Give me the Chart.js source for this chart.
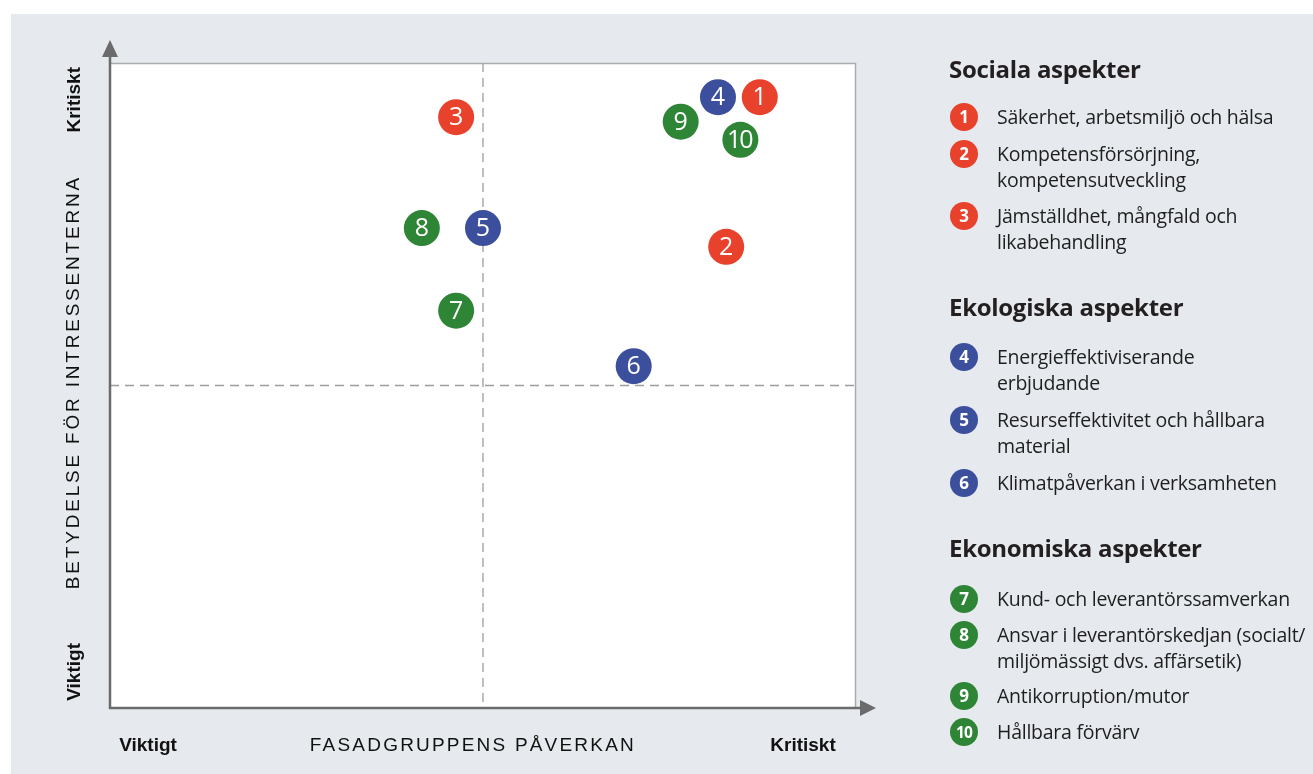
<!DOCTYPE html>
<html><head><meta charset="utf-8">
<script src="https://cdn.jsdelivr.net/npm/chart.js@4"></script>
<style>
html,body{margin:0;padding:0;background:#fff;width:1313px;height:774px;overflow:hidden;font-family:"Open Sans",sans-serif;}
#panel{position:absolute;left:11px;top:14px;width:1302px;height:760px;background:#e6eaee;}
#wrap{position:absolute;left:0;top:0;width:1313px;height:774px;}
.hd{position:absolute;left:949px;font-weight:700;font-size:24px;line-height:30px;color:#231f20;letter-spacing:-0.3px;white-space:nowrap;}
.it{position:absolute;left:997px;font-size:19.5px;line-height:26px;color:#1e1e1e;letter-spacing:-0.25px;white-space:nowrap;}
.dot{position:absolute;left:950px;width:28px;height:28px;border-radius:50%;color:#fff;font-weight:700;font-size:17px;line-height:28px;text-align:center;}
</style></head>
<body>
<div id="panel"></div>
<div id="wrap"><canvas id="c" width="1313" height="774"></canvas></div>
<div id="legend"></div>
<script>
// ---- data ----
const ids = [1,2,3,4,5,6,7,8,9,10];
const names = [
  "Säkerhet, arbetsmiljö och hälsa",
  "Kompetensförsörjning,|kompetensutveckling",
  "Jämställdhet, mångfald och|likabehandling",
  "Energieffektiviserande|erbjudande",
  "Resurseffektivitet och hållbara|material",
  "Klimatpåverkan i verksamheten",
  "Kund- och leverantörssamverkan",
  "Ansvar i leverantörskedjan (socialt/|miljömässigt dvs. affärsetik)",
  "Antikorruption/mutor",
  "Hållbara förvärv"
];
const groupNames = ["Sociala aspekter","Ekologiska aspekter","Ekonomiska aspekter"];
const groupColors = ["#e8412c","#3b4f9d","#2f8536"];
const groupOf = [0,0,0,1,1,1,2,2,2,2];
const xVals = [8.71,8.26,4.64,8.15,5.00,7.02,4.64,4.18,7.65,8.45]; // Fasadgruppens påverkan
const yVals = [9.47,7.15,9.16,9.47,7.44,5.30,6.16,7.44,9.09,8.81]; // Betydelse för intressenterna
const axisXLabel = "FASADGRUPPENS PÅVERKAN";
const axisYLabel = "BETYDELSE FÖR INTRESSENTERNA";
const lowLabel = "Viktigt", highLabel = "Kritiskt";

// ---- legend (HTML) ----
const legendLayout = {heads:[69,307,548], rows:[117,154,216,357,420,483,599,635,696,732]};
const lg = document.getElementById('legend');
groupNames.forEach((g,i)=>{
  const d=document.createElement('div');d.className='hd';d.textContent=g;
  d.style.top=(legendLayout.heads[i]-15)+'px';lg.appendChild(d);
});
ids.forEach((id,i)=>{
  const c=groupColors[groupOf[i]];
  const dot=document.createElement('div');dot.className='dot';dot.textContent=id;
  dot.style.background=c;dot.style.top=(legendLayout.rows[i]-14)+'px';
  if(id===10){dot.style.fontSize='15.5px';dot.style.letterSpacing='-0.8px';}
  lg.appendChild(dot);
  const t=document.createElement('div');t.className='it';
  t.innerHTML=names[i].split('|').join('<br>');
  t.style.top=(legendLayout.rows[i]-13)+'px';lg.appendChild(t);
});

// ---- chart ----
const datasets = groupNames.map((g,gi)=>{
  const pts=[];
  ids.forEach((id,i)=>{ if(groupOf[i]===gi) pts.push({x:xVals[i],y:yVals[i],id:id}); });
  return {label:g,data:pts,backgroundColor:groupColors[gi],borderWidth:0,pointRadius:18,pointHoverRadius:18};
});

const decor = {
  id:'decor',
  beforeDatasetsDraw(chart){
    const {ctx,chartArea:a,scales:{x,y}} = chart;
    ctx.save();
    ctx.fillStyle='#fff';
    ctx.fillRect(a.left,a.top,a.right-a.left,a.bottom-a.top);
    // top/right border
    ctx.strokeStyle='#a9abad';ctx.lineWidth=1.5;
    ctx.beginPath();ctx.moveTo(a.left,a.top+0.5);ctx.lineTo(a.right-0.5,a.top+0.5);ctx.lineTo(a.right-0.5,a.bottom);ctx.stroke();
    // dashed mid lines
    ctx.setLineDash([9,6]);ctx.strokeStyle='#9d9d9d';ctx.lineWidth=1.3;
    const mx=x.getPixelForValue(5), my=y.getPixelForValue(5);
    ctx.beginPath();ctx.moveTo(mx,a.top);ctx.lineTo(mx,a.bottom);ctx.stroke();
    ctx.beginPath();ctx.moveTo(a.left,my);ctx.lineTo(a.right,my);ctx.stroke();
    ctx.setLineDash([]);
    // axes with arrows
    ctx.strokeStyle='#6b6b6b';ctx.fillStyle='#6b6b6b';ctx.lineWidth=2.5;
    ctx.beginPath();ctx.moveTo(a.left,a.bottom+1);ctx.lineTo(a.left,a.top-8);ctx.stroke();
    ctx.beginPath();ctx.moveTo(a.left-1,a.bottom);ctx.lineTo(a.right+8,a.bottom);ctx.stroke();
    ctx.beginPath();ctx.moveTo(a.left,a.top-23);ctx.lineTo(a.left-8,a.top-6);ctx.lineTo(a.left+8,a.top-6);ctx.closePath();ctx.fill();
    ctx.beginPath();ctx.moveTo(a.right+20,a.bottom);ctx.lineTo(a.right+4,a.bottom-8);ctx.lineTo(a.right+4,a.bottom+8);ctx.closePath();ctx.fill();
    // axis texts
    ctx.fillStyle='#111';ctx.textBaseline='middle';ctx.textAlign='center';
    ctx.font='bold 19px "Liberation Sans", Arial, sans-serif';
    ctx.fillText(lowLabel, x.getPixelForValue(0.51), a.bottom+38);
    ctx.fillText(highLabel, x.getPixelForValue(9.29), a.bottom+38);
    ctx.font='19px "Liberation Sans", Arial, sans-serif';
    ctx.letterSpacing='2.2px';
    ctx.fillText(axisXLabel, x.getPixelForValue(4.85)+1.1, a.bottom+38);
    ctx.save();
    ctx.translate(a.left-36, y.getPixelForValue(5)-2);ctx.rotate(-Math.PI/2);
    ctx.letterSpacing='2.8px';
    ctx.fillText(axisYLabel,1.4,0);
    ctx.restore();
    ctx.letterSpacing='0px';
    ctx.font='bold 19px "Liberation Sans", Arial, sans-serif';
    ctx.save();ctx.translate(a.left-35, y.getPixelForValue(9.43));ctx.rotate(-Math.PI/2);ctx.fillText(highLabel,0,0);ctx.restore();
    ctx.save();ctx.translate(a.left-35, y.getPixelForValue(0.56));ctx.rotate(-Math.PI/2);ctx.fillText(lowLabel,0,0);ctx.restore();
    ctx.restore();
  },
  afterDatasetsDraw(chart){
    const ctx=chart.ctx;
    ctx.save();
    ctx.fillStyle='#fff';ctx.textAlign='center';ctx.textBaseline='middle';
    chart.data.datasets.forEach((ds,di)=>{
      chart.getDatasetMeta(di).data.forEach((el,j)=>{
        const id=ds.data[j].id;
        ctx.font='25px "Open Sans", sans-serif';
        if(id===10){ctx.letterSpacing='-2px';} else ctx.letterSpacing='0px';
        ctx.fillText(String(id), el.x+(id===10?-1:0), el.y+1);
      });
    });
    ctx.restore();
  }
};

new Chart(document.getElementById('c'),{
  type:'scatter',
  data:{datasets},
  options:{
    responsive:false,animation:false,
    events:[],
    layout:{padding:{left:110,top:63,right:1313-856,bottom:774-708}},
    scales:{
      x:{type:'linear',min:0,max:10,display:false},
      y:{type:'linear',min:0,max:10,display:false}
    },
    plugins:{legend:{display:false},tooltip:{enabled:false}},
    elements:{point:{borderWidth:0}},
    clip:false
  },
  plugins:[decor]
});
</script>
</body></html>
